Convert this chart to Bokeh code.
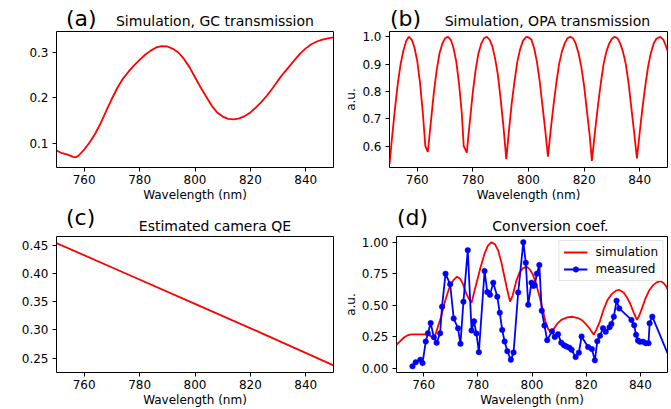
from bokeh.plotting import figure
from bokeh.models import Range1d, FixedTicker, PrintfTickFormatter, Legend, LegendItem
from bokeh.core.properties import value
from bokeh.layouts import column, row
from bokeh.embed import file_html
from bokeh.resources import INLINE

FONT = "DejaVu Sans"

# ---------------- data ----------------
# (a) grating coupler transmission
gc_x = [750, 752, 754, 756, 757, 758, 760, 762, 764, 766, 768, 770, 772, 774, 776, 778, 780,
        782, 784, 786, 788, 790, 792, 794, 796, 798, 800, 802, 804, 806, 808, 810, 812, 814,
        816, 818, 820, 822, 824, 826, 828, 830, 832, 834, 836, 838, 840, 842, 844, 846, 848, 850]
gc_y = [0.085, 0.079, 0.076, 0.071, 0.070, 0.074, 0.087, 0.103, 0.122, 0.145, 0.172, 0.198,
        0.222, 0.242, 0.257, 0.271, 0.283, 0.294, 0.303, 0.310, 0.313, 0.312, 0.307, 0.299,
        0.285, 0.267, 0.245, 0.223, 0.203, 0.183, 0.168, 0.159, 0.154, 0.153, 0.155, 0.160,
        0.168, 0.179, 0.191, 0.205, 0.221, 0.238, 0.254, 0.268, 0.283, 0.297, 0.308, 0.317,
        0.323, 0.327, 0.330, 0.332]

# (b) OPA transmission
opa_x = [750, 751, 752, 753, 754, 755, 756, 757, 758, 759, 760, 761, 762, 762.9, 763.8,
         764.5, 765.2, 766, 767, 768, 769, 770, 771, 772, 773, 774, 775, 776, 776.7, 777.8,
         778.5, 779.3, 780, 781, 782, 783, 784, 785, 786, 787, 788, 789, 790, 791, 792,
         793, 794, 795, 796, 797, 798, 799, 799.6, 801, 802, 803, 804, 805, 806, 807,
         808, 809, 810, 811, 812, 813, 814, 815, 816, 817, 818, 819, 820, 821, 822, 822.8,
         824, 825, 826, 827, 828, 829, 830, 831, 832, 833, 834, 835, 836, 837, 838, 839,
         840, 841, 842, 843, 844, 845, 846, 847.4, 848.5, 849.3, 850]
opa_y = [0.535, 0.64, 0.74, 0.83, 0.90, 0.95, 0.985, 1.0, 0.99, 0.96, 0.91, 0.83, 0.72, 0.60, 0.579,
         0.65, 0.72, 0.80, 0.88, 0.94, 0.975, 0.995, 1.0, 0.99, 0.96, 0.91, 0.83, 0.72, 0.60, 0.576,
         0.65, 0.73, 0.80, 0.88, 0.94, 0.975, 0.995, 1.0, 0.99, 0.965, 0.92, 0.86, 0.77, 0.67, 0.552,
         0.66, 0.76, 0.84, 0.91, 0.955, 0.985, 0.998, 1.0, 0.99, 0.96, 0.91, 0.84, 0.75, 0.66, 0.561,
         0.66, 0.75, 0.83, 0.90, 0.945, 0.975, 0.995, 1.0, 0.995, 0.975, 0.94, 0.89, 0.82, 0.73, 0.64, 0.546,
         0.66, 0.75, 0.83, 0.90, 0.945, 0.975, 0.993, 1.0, 0.995, 0.975, 0.945, 0.90, 0.83, 0.74, 0.65, 0.555,
         0.65, 0.74, 0.82, 0.89, 0.94, 0.975, 0.993, 1.0, 0.99, 0.97, 0.949]

# (c) camera QE
qe_x = [750, 775, 800, 825, 850]
qe_y = [0.454, 0.400, 0.346, 0.292, 0.237]

# (d) conversion coefficient
sim_x = [750, 751, 752, 753, 754, 755, 756, 758, 760, 761.5, 762.8, 763.9, 764.8, 766.4, 768,
         769.5, 771, 772.3, 773.5, 774.5, 775.8, 776.8, 777.7, 778.6, 779.5, 781, 782.5, 783.7,
         785, 786.3, 787.5, 788.6, 789.7, 790.7, 791.9, 792.9, 794.2, 795.4, 796.7, 798, 799.2,
         800.3, 801.5, 802.6, 803.8, 805, 806, 807, 808.2, 809.5, 811, 813, 815, 817, 818.6,
         820, 821.3, 822.8, 823.8, 825, 826.3, 827.8, 829.4, 831, 832.2, 833.8, 835, 836.2,
         837.5, 838.7, 839.6, 840.8, 842, 843.3, 844.6, 846, 847.4, 848.6, 849.4, 850]
sim_y = [0.188, 0.21, 0.23, 0.25, 0.262, 0.268, 0.27, 0.27, 0.27, 0.268, 0.255, 0.235, 0.30,
         0.405, 0.54, 0.64, 0.70, 0.727, 0.71, 0.67, 0.59, 0.55, 0.52, 0.60, 0.675, 0.80, 0.91,
         0.97, 1.0, 0.985, 0.935, 0.85, 0.74, 0.64, 0.53, 0.58, 0.694, 0.76, 0.795, 0.806, 0.785,
         0.745, 0.67, 0.585, 0.48, 0.37, 0.31, 0.29, 0.32, 0.36, 0.388, 0.405, 0.41, 0.40, 0.38,
         0.35, 0.315, 0.268, 0.31, 0.37, 0.46, 0.54, 0.589, 0.617, 0.622, 0.602, 0.565, 0.515,
         0.445, 0.385, 0.42, 0.49, 0.562, 0.62, 0.658, 0.682, 0.692, 0.675, 0.655, 0.628]

meas_x = [755.9, 757.1, 758.8, 759.6, 760.8, 761.6, 762.6, 763.8, 764.8, 766.1, 766.8, 768.1,
          769.8, 771.1, 772.7, 773.6, 774.7, 776.3, 777.7, 778.6, 779.5, 780.4, 782.5, 783.5,
          784.5, 785.7, 787.2, 788.1, 789.0, 789.9, 790.9, 792.2, 793.2, 794.9, 796.8, 797.7,
          798.6, 799.8, 800.5, 801.0, 801.8, 802.7, 803.6, 804.6, 805.6, 807.4, 808.4, 809.6,
          810.8, 811.8, 812.7, 813.8, 814.6, 816.1, 817.3, 818.3, 820.7, 822.1, 823.2, 824.1,
          825.1, 826.2, 827.2, 828.6, 829.3, 830.2, 831.2, 832.2, 836.7, 837.7, 838.4, 839.1,
          839.8, 841.0, 842.0, 843.0, 843.4, 844.4, 851.0]
meas_y = [0.018, 0.05, 0.07, 0.044, 0.214, 0.28, 0.36, 0.248, 0.204, 0.28, 0.49, 0.751,
          0.667, 0.397, 0.319, 0.196, 0.529, 0.937, 0.301, 0.374, 0.277, 0.13, 0.772, 0.605,
          0.584, 0.68, 0.568, 0.442, 0.306, 0.214, 0.138, 0.07, 0.128, 0.602, 1.0, 0.837,
          0.505, 0.68, 0.654, 0.66, 0.751, 0.82, 0.458, 0.34, 0.225, 0.295, 0.25, 0.272,
          0.205, 0.185, 0.175, 0.165, 0.149, 0.091, 0.126, 0.254, 0.17, 0.154, 0.065, 0.217,
          0.259, 0.319, 0.291, 0.327, 0.353, 0.411, 0.537, 0.476, 0.385, 0.343, 0.267, 0.222,
          0.212, 0.212, 0.201, 0.201, 0.358, 0.411, 0.07]

x_ticks = [760, 780, 800, 820, 840]

panel_tags = ["(a)", "(b)", "(c)", "(d)"]
panel_titles = ["Simulation, GC transmission", "Simulation, OPA transmission",
                "Estimated camera QE", "Conversion coef."]


def make_header(width, height, tag, tag_x, tag_y, title, title_x, title_y):
    # a strip above each panel holding the panel tag and its title
    h = figure(width=width, height=height, x_range=Range1d(0, width), y_range=Range1d(0, height),
               output_backend="svg", toolbar_location=None, title=None,
               min_border_left=0, min_border_right=0, min_border_top=0, min_border_bottom=0,
               x_axis_location=None, y_axis_location=None)
    h.grid.visible = False
    h.outline_line_color = None
    h.background_fill_color = "white"
    h.border_fill_color = "white"
    h.text(x=[tag_x], y=[tag_y], text=[tag], text_font=value(FONT), text_font_size="22px",
           text_color="black", text_baseline="middle", text_align="left")
    h.text(x=[title_x], y=[title_y], text=[title], text_font=value(FONT),
           text_font_size="14px", text_color="black", text_baseline="middle",
           text_align="center")
    return h


def make_fig(width, height, left, right, yr, yticks, yfmt, ylabel=None):
    p = figure(width=width, height=height, x_range=Range1d(750, 850), y_range=Range1d(*yr),
               output_backend="svg", toolbar_location=None, title=None,
               min_border_left=left, min_border_right=right,
               min_border_top=1, min_border_bottom=36)
    p.grid.visible = False
    p.outline_line_color = "black"
    p.outline_line_alpha = 1.0
    p.outline_line_width = 1
    p.background_fill_color = "white"
    p.border_fill_color = "white"
    for ax in p.axis:
        ax.axis_line_color = None
        ax.major_tick_in = 0
        ax.major_tick_out = 4
        ax.major_tick_line_color = "black"
        ax.minor_tick_line_color = None
        ax.major_label_text_font = FONT
        ax.major_label_text_font_size = "12px"
        ax.major_label_text_color = "black"
        ax.axis_label_text_font = FONT
        ax.axis_label_text_font_size = "12px"
        ax.axis_label_text_font_style = "normal"
        ax.axis_label_text_color = "black"
    p.xaxis.ticker = FixedTicker(ticks=x_ticks)
    p.xaxis.formatter = PrintfTickFormatter(format="%d")
    p.xaxis.axis_label = "Wavelength (nm)"
    p.xaxis.major_label_standoff = 3
    p.xaxis.axis_label_standoff = 1
    p.yaxis.ticker = FixedTicker(ticks=yticks)
    p.yaxis.formatter = PrintfTickFormatter(format=yfmt)
    p.yaxis.major_label_standoff = 4
    if ylabel:
        p.yaxis.axis_label = ylabel
        p.yaxis.axis_label_standoff = 1
    return p


LW = 1.8

ha = make_header(340, 30, panel_tags[0], 11.6, 12.3, panel_titles[0], 194.5, 9.6)
pa = make_fig(340, 174, 56, 7, (0.0478, 0.3448), [0.1, 0.2, 0.3], "%.1f")
pa.line(gc_x, gc_y, line_color="red", line_width=LW)

hb = make_header(331, 30, panel_tags[1], 0.6, 12.3, panel_titles[1], 188, 9.6)
pb = make_fig(331, 174, 49, 4, (0.5215, 1.0195), [0.6, 0.7, 0.8, 0.9, 1.0], "%.1f", ylabel="a.u.")
pb.line(opa_x, opa_y, line_color="red", line_width=LW)

hc = make_header(340, 31, panel_tags[2], 11.6, 18, panel_titles[2], 194.5, 9.3)
pc = make_fig(340, 174, 56, 7, (0.2243, 0.4657), [0.25, 0.30, 0.35, 0.40, 0.45], "%.2f")
pc.line(qe_x, qe_y, line_color="red", line_width=LW)

hd = make_header(331, 31, panel_tags[3], 0.6, 18, panel_titles[3], 188, 9.3)
pd = make_fig(331, 174, 49, 4, (-0.031, 1.045), [0.0, 0.25, 0.5, 0.75, 1.0], "%.2f", ylabel="a.u.")
r_sim = pd.line(sim_x, sim_y, line_color="red", line_width=LW)
r_ml = pd.line(meas_x, meas_y, line_color="blue", line_width=LW)
r_mp = pd.scatter(meas_x, meas_y, marker="circle", size=5.5, fill_color="blue", line_color="blue",
                  line_width=0.5)

legend = Legend(items=[LegendItem(label="simulation", renderers=[r_sim]),
                       LegendItem(label="measured", renderers=[r_ml, r_mp])],
                location="top_right", margin=4, padding=4, spacing=3,
                glyph_width=24, glyph_height=14, label_height=14, label_standoff=8,
                label_text_font=FONT, label_text_font_size="12px", label_text_color="black",
                border_line_color="#cccccc", border_line_width=1,
                background_fill_color="white", background_fill_alpha=0.8)
pd.add_layout(legend)

layout = column(row(column(ha, pa), column(hb, pb)),
                row(column(hc, pc), column(hd, pd)))

open("out.html", "w").write(file_html(layout, INLINE))
